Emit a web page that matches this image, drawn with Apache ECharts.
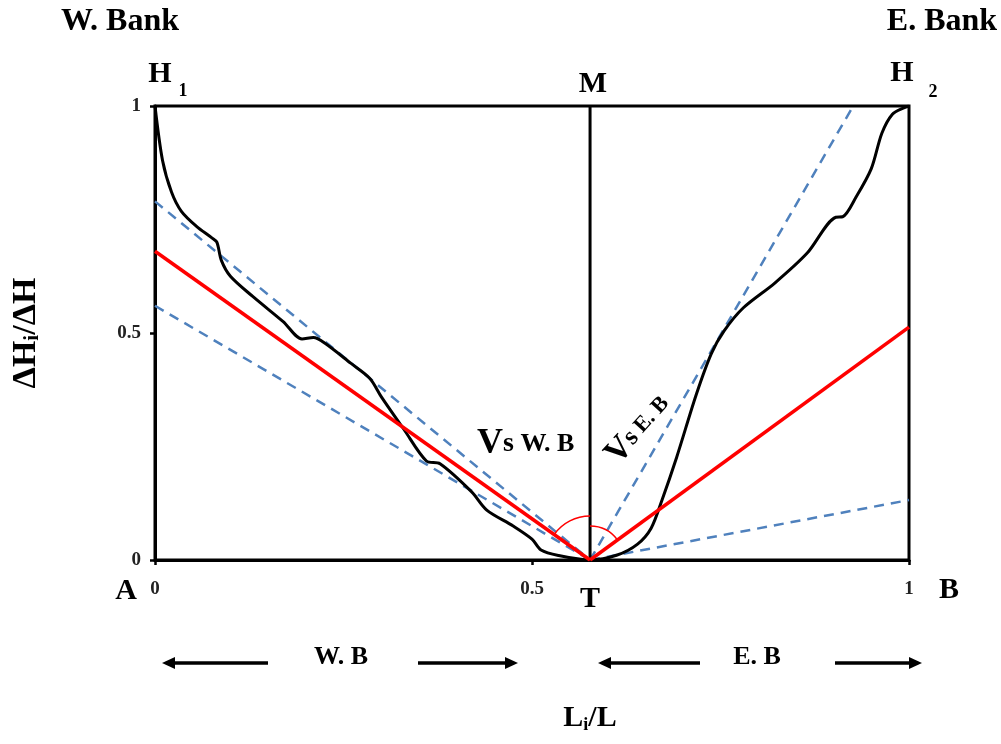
<!DOCTYPE html>
<html><head><meta charset="utf-8">
<script src="https://cdn.jsdelivr.net/npm/echarts@6/dist/echarts.min.js"></script>
<style>html,body{margin:0;padding:0;background:#fff}#c{width:1001px;height:744px}</style>
</head><body><div id="c"></div>
<script>
// ---- data ----
const curveX = [0, 0.010, 0.022, 0.035, 0.055, 0.075, 0.082, 0.088, 0.100, 0.130, 0.170, 0.195, 0.210, 0.225, 0.260, 0.285, 0.300, 0.330, 0.360, 0.378, 0.420, 0.440, 0.475, 0.500, 0.512, 0.535, 0.577,
                0.613, 0.640, 0.658, 0.672, 0.692, 0.718, 0.738, 0.755, 0.780, 0.822, 0.865, 0.903, 0.912, 0.930, 0.950, 0.964, 0.978, 0.993, 1.0];
const curveY = [1.0, 0.880, 0.810, 0.768, 0.735, 0.710, 0.700, 0.660, 0.625, 0.580, 0.525, 0.487, 0.490, 0.478, 0.433, 0.400, 0.360, 0.288, 0.218, 0.212, 0.150, 0.110, 0.075, 0.046, 0.022, 0.010, 0.0,
                0.011, 0.035, 0.070, 0.130, 0.227, 0.365, 0.455, 0.505, 0.555, 0.610, 0.676, 0.755, 0.756, 0.800, 0.862, 0.940, 0.982, 0.996, 1.0];
const tX = 0.577;               // thalweg position T
const redLeftY0 = 0.68;         // red W.B line value at x = 0
const redRightY1 = 0.513;       // red E.B line value at x = 1
const blueUpperLeftY0 = 0.79;   // dashed W.B upper at x = 0
const blueLowerLeftY0 = 0.56;   // dashed W.B lower at x = 0
const blueSteepRightX1 = 0.926; // dashed E.B steep reaches y = 1 at this x
const blueFlatRightY1 = 0.132;  // dashed E.B flat value at x = 1
const axisMin = 0, axisMax = 1, axisStep = 0.5;

const curve = curveX.map((x, i) => [x, curveY[i]]);
const serif = '"Liberation Serif", "Times New Roman", serif';

const chart = echarts.init(document.getElementById('c'), null, {renderer: 'canvas'});

const blueStyle = {color: '#4F81BD', width: 2.5, type: [10, 7]};
function seg(data, lineStyle, z) {
  return {type: 'line', data, showSymbol: false, symbol: 'none', lineStyle, z: z, silent: true, animation: false};
}

function arrowHead(tipX, y, dir) {
  return {type: 'polygon', shape: {points: [[tipX, y], [tipX - dir * 13, y - 6], [tipX - dir * 13, y + 6]]}, style: {fill: '#000'}};
}
function arrowLine(x1, x2, y) {
  return {type: 'line', shape: {x1, y1: y, x2, y2: y}, style: {stroke: '#000', lineWidth: 3.5}};
}
function txt(text, x, y, size, opts) {
  return Object.assign({type: 'text', x, y, style: Object.assign({text, font: 'bold ' + size + 'px ' + serif, fill: '#000', align: 'center', verticalAlign: 'middle'}, opts || {})});
}

const option = {
  animation: false,
  backgroundColor: '#fff',
  grid: {left: 155, right: 92, top: 106, bottom: 184, show: true, borderColor: '#000', borderWidth: 3, backgroundColor: 'transparent'},
  xAxis: {
    type: 'value', min: axisMin, max: axisMax, interval: axisStep,
    axisLine: {show: true, lineStyle: {color: '#000', width: 3}},
    axisTick: {show: true, length: 5, lineStyle: {color: '#000', width: 2.5}},
    splitLine: {show: false},
    axisLabel: {color: '#222', fontFamily: serif, fontWeight: 'bold', fontSize: 19, margin: 20}
  },
  yAxis: {
    type: 'value', min: axisMin, max: axisMax, interval: axisStep,
    axisLine: {show: true, lineStyle: {color: '#000', width: 3}},
    axisTick: {show: true, length: 5, lineStyle: {color: '#000', width: 2.5}},
    splitLine: {show: false},
    axisLabel: {color: '#222', fontFamily: serif, fontWeight: 'bold', fontSize: 19, margin: 14},
    name: '{a|ΔH}{s|i}{a|/ΔH}',
    nameLocation: 'middle', nameGap: 112,
    nameTextStyle: {rich: {
      a: {fontFamily: serif, fontWeight: 'bold', fontSize: 34, color: '#000'},
      s: {fontFamily: serif, fontWeight: 'bold', fontSize: 21, color: '#000', verticalAlign: 'bottom', padding: [13, 0, 0, 0]}
    }}
  },
  series: [
    seg([[0, blueUpperLeftY0], [tX, 0]], blueStyle, 2),
    seg([[0, blueLowerLeftY0], [tX, 0]], blueStyle, 2),
    seg([[tX, 0], [blueSteepRightX1, 1]], blueStyle, 2),
    seg([[tX, 0], [1, blueFlatRightY1]], blueStyle, 2),
    {type: 'line', data: curve, showSymbol: false, symbol: 'none', smooth: 0.3,
     lineStyle: {color: '#000', width: 3}, z: 3, silent: true},
    seg([[tX, 0], [tX, 1]], {color: '#000', width: 3}, 3),
    seg([[0, redLeftY0], [tX, 0]], {color: '#FF0000', width: 3.5}, 4),
    seg([[tX, 0], [1, redRightY1]], {color: '#FF0000', width: 3.5}, 4),
    {
      type: 'custom', z: 5, silent: true, data: [[tX, 0]],
      renderItem: function (params, api) {
        const c = api.coord([tX, 0]);
        const pl = api.coord([0, redLeftY0]);
        const pr = api.coord([1, redRightY1]);
        const aL = Math.atan2(pl[1] - c[1], pl[0] - c[0]);
        const aR = Math.atan2(pr[1] - c[1], pr[0] - c[0]);
        return {type: 'group', children: [
          {type: 'arc', shape: {cx: c[0], cy: c[1], r: 44, startAngle: aL, endAngle: -Math.PI / 2, clockwise: true},
           style: {stroke: '#FF0000', lineWidth: 1.5, fill: null}},
          {type: 'arc', shape: {cx: c[0], cy: c[1], r: 34, startAngle: -Math.PI / 2, endAngle: aR, clockwise: true},
           style: {stroke: '#FF0000', lineWidth: 1.5, fill: null}}
        ]};
      }
    }
  ],
  graphic: [
    txt('W. Bank', 120, 22, 32),
    txt('E. Bank', 942, 22, 32),
    txt('H', 160, 74, 30),
    txt('1', 183, 91, 18),
    txt('M', 593, 84, 30),
    txt('H', 902, 73, 30),
    txt('2', 933, 92, 18),
    txt('A', 126, 591, 30),
    txt('T', 590, 599, 30),
    txt('B', 949, 590, 30),
    {type: 'text', x: 477, y: 462, style: {text: '{v|V}{s|s}{w| W. B}', fill: '#000', align: 'left', verticalAlign: 'bottom',
      rich: {v: {font: 'bold 36px ' + serif, fill: '#000'}, s: {font: 'bold 28px ' + serif, fill: '#000'}, w: {font: 'bold 26px ' + serif, fill: '#000'}}}},
    {type: 'text', x: 624, y: 471, rotation: 48 * Math.PI / 180, style: {text: '{v|V}{s|s}{w| E. B}', fill: '#000', align: 'left', verticalAlign: 'bottom',
      rich: {v: {font: 'bold 34px ' + serif, fill: '#000'}, s: {font: 'bold 26px ' + serif, fill: '#000'}, w: {font: 'bold 22px ' + serif, fill: '#000'}}}},
    txt('W. B', 341, 657, 26),
    txt('E. B', 757, 657, 26),
    arrowLine(170, 268, 663), arrowHead(162, 663, -1),
    arrowLine(418, 510, 663), arrowHead(518, 663, 1),
    arrowLine(606, 700, 663), arrowHead(598, 663, -1),
    arrowLine(835, 914, 663), arrowHead(922, 663, 1),
    {type: 'text', x: 590, y: 718, style: {text: '{a|L}{s|i}{a|/L}', fill: '#000', align: 'center', verticalAlign: 'middle',
      rich: {a: {font: 'bold 30px ' + serif, fill: '#000'}, s: {font: 'bold 18px ' + serif, fill: '#000', padding: [14, 0, 0, 0]}}}}
  ]
};
chart.setOption(option);
</script>
</body></html>
